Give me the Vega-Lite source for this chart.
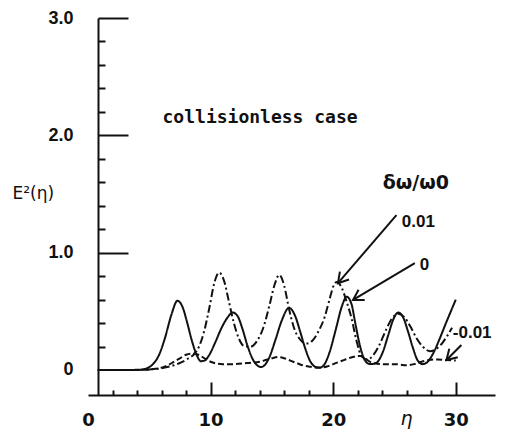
{
  "$schema": "https://vega.github.io/schema/vega-lite/v6.json",
  "width": 407,
  "height": 377,
  "autosize": {"type": "none"},
  "padding": {"left": 88, "top": 18, "right": 12, "bottom": 42},
  "background": "white",
  "config": {
    "view": {"stroke": null},
    "axis": {"grid": false, "domainColor": "#111", "tickColor": "#111", "labelColor": "#111", "titleColor": "#111"}
  },
  "datasets": {
    "curves": [
      {"eta": 0.8, "E2": 0, "ratio": "0"}, {"eta": 3, "E2": 0, "ratio": "0"}, {"eta": 4.3, "E2": 0.003, "ratio": "0"}, {"eta": 4.8, "E2": 0.015, "ratio": "0"}, {"eta": 5.3, "E2": 0.05, "ratio": "0"}, {"eta": 5.8, "E2": 0.13, "ratio": "0"}, {"eta": 6.3, "E2": 0.28, "ratio": "0"}, {"eta": 6.8, "E2": 0.47, "ratio": "0"}, {"eta": 7.3, "E2": 0.59, "ratio": "0"}, {"eta": 7.7, "E2": 0.54, "ratio": "0"}, {"eta": 8.1, "E2": 0.4, "ratio": "0"}, {"eta": 8.5, "E2": 0.24, "ratio": "0"}, {"eta": 8.9, "E2": 0.12, "ratio": "0"}, {"eta": 9.2, "E2": 0.075, "ratio": "0"}, {"eta": 9.5, "E2": 0.08, "ratio": "0"}, {"eta": 9.9, "E2": 0.13, "ratio": "0"}, {"eta": 10.4, "E2": 0.24, "ratio": "0"}, {"eta": 10.9, "E2": 0.36, "ratio": "0"}, {"eta": 11.4, "E2": 0.45, "ratio": "0"}, {"eta": 11.8, "E2": 0.49, "ratio": "0"}, {"eta": 12.2, "E2": 0.46, "ratio": "0"}, {"eta": 12.6, "E2": 0.35, "ratio": "0"}, {"eta": 13.0, "E2": 0.21, "ratio": "0"}, {"eta": 13.4, "E2": 0.1, "ratio": "0"}, {"eta": 13.8, "E2": 0.04, "ratio": "0"}, {"eta": 14.1, "E2": 0.025, "ratio": "0"}, {"eta": 14.4, "E2": 0.04, "ratio": "0"}, {"eta": 14.8, "E2": 0.11, "ratio": "0"}, {"eta": 15.3, "E2": 0.26, "ratio": "0"}, {"eta": 15.8, "E2": 0.42, "ratio": "0"}, {"eta": 16.4, "E2": 0.53, "ratio": "0"}, {"eta": 16.9, "E2": 0.46, "ratio": "0"}, {"eta": 17.3, "E2": 0.33, "ratio": "0"}, {"eta": 17.7, "E2": 0.19, "ratio": "0"}, {"eta": 18.1, "E2": 0.08, "ratio": "0"}, {"eta": 18.5, "E2": 0.03, "ratio": "0"}, {"eta": 18.9, "E2": 0.02, "ratio": "0"}, {"eta": 19.3, "E2": 0.05, "ratio": "0"}, {"eta": 19.7, "E2": 0.15, "ratio": "0"}, {"eta": 20.2, "E2": 0.34, "ratio": "0"}, {"eta": 20.7, "E2": 0.54, "ratio": "0"}, {"eta": 21.1, "E2": 0.625, "ratio": "0"}, {"eta": 21.5, "E2": 0.56, "ratio": "0"}, {"eta": 21.8, "E2": 0.4, "ratio": "0"}, {"eta": 22.2, "E2": 0.2, "ratio": "0"}, {"eta": 22.6, "E2": 0.08, "ratio": "0"}, {"eta": 23.0, "E2": 0.05, "ratio": "0"}, {"eta": 23.5, "E2": 0.06, "ratio": "0"}, {"eta": 24.0, "E2": 0.14, "ratio": "0"}, {"eta": 24.5, "E2": 0.3, "ratio": "0"}, {"eta": 24.9, "E2": 0.43, "ratio": "0"}, {"eta": 25.3, "E2": 0.49, "ratio": "0"}, {"eta": 25.7, "E2": 0.45, "ratio": "0"}, {"eta": 26.1, "E2": 0.33, "ratio": "0"}, {"eta": 26.5, "E2": 0.19, "ratio": "0"}, {"eta": 26.9, "E2": 0.08, "ratio": "0"}, {"eta": 27.3, "E2": 0.05, "ratio": "0"}, {"eta": 27.7, "E2": 0.07, "ratio": "0"}, {"eta": 28.2, "E2": 0.15, "ratio": "0"}, {"eta": 28.7, "E2": 0.27, "ratio": "0"}, {"eta": 29.2, "E2": 0.4, "ratio": "0"}, {"eta": 29.6, "E2": 0.5, "ratio": "0"}, {"eta": 30.0, "E2": 0.6, "ratio": "0"},

      {"eta": 0.8, "E2": 0, "ratio": "0.01"}, {"eta": 4, "E2": 0, "ratio": "0.01"}, {"eta": 5, "E2": 0.005, "ratio": "0.01"}, {"eta": 6, "E2": 0.015, "ratio": "0.01"}, {"eta": 7, "E2": 0.04, "ratio": "0.01"}, {"eta": 7.6, "E2": 0.065, "ratio": "0.01"}, {"eta": 8.2, "E2": 0.1, "ratio": "0.01"}, {"eta": 8.7, "E2": 0.14, "ratio": "0.01"}, {"eta": 9.1, "E2": 0.21, "ratio": "0.01"}, {"eta": 9.5, "E2": 0.34, "ratio": "0.01"}, {"eta": 9.9, "E2": 0.53, "ratio": "0.01"}, {"eta": 10.3, "E2": 0.74, "ratio": "0.01"}, {"eta": 10.7, "E2": 0.83, "ratio": "0.01"}, {"eta": 11.1, "E2": 0.76, "ratio": "0.01"}, {"eta": 11.5, "E2": 0.58, "ratio": "0.01"}, {"eta": 11.9, "E2": 0.4, "ratio": "0.01"}, {"eta": 12.3, "E2": 0.27, "ratio": "0.01"}, {"eta": 12.8, "E2": 0.2, "ratio": "0.01"}, {"eta": 13.3, "E2": 0.2, "ratio": "0.01"}, {"eta": 13.8, "E2": 0.25, "ratio": "0.01"}, {"eta": 14.3, "E2": 0.36, "ratio": "0.01"}, {"eta": 14.8, "E2": 0.55, "ratio": "0.01"}, {"eta": 15.2, "E2": 0.72, "ratio": "0.01"}, {"eta": 15.6, "E2": 0.81, "ratio": "0.01"}, {"eta": 16.0, "E2": 0.72, "ratio": "0.01"}, {"eta": 16.4, "E2": 0.52, "ratio": "0.01"}, {"eta": 16.8, "E2": 0.36, "ratio": "0.01"}, {"eta": 17.3, "E2": 0.26, "ratio": "0.01"}, {"eta": 17.8, "E2": 0.225, "ratio": "0.01"}, {"eta": 18.3, "E2": 0.25, "ratio": "0.01"}, {"eta": 18.8, "E2": 0.33, "ratio": "0.01"}, {"eta": 19.3, "E2": 0.45, "ratio": "0.01"}, {"eta": 19.7, "E2": 0.6, "ratio": "0.01"}, {"eta": 20.0, "E2": 0.71, "ratio": "0.01"}, {"eta": 20.3, "E2": 0.75, "ratio": "0.01"}, {"eta": 20.7, "E2": 0.7, "ratio": "0.01"}, {"eta": 21.1, "E2": 0.58, "ratio": "0.01"}, {"eta": 21.5, "E2": 0.44, "ratio": "0.01"}, {"eta": 21.9, "E2": 0.25, "ratio": "0.01"}, {"eta": 22.3, "E2": 0.12, "ratio": "0.01"}, {"eta": 22.8, "E2": 0.09, "ratio": "0.01"}, {"eta": 23.3, "E2": 0.13, "ratio": "0.01"}, {"eta": 23.8, "E2": 0.22, "ratio": "0.01"}, {"eta": 24.3, "E2": 0.34, "ratio": "0.01"}, {"eta": 24.8, "E2": 0.44, "ratio": "0.01"}, {"eta": 25.3, "E2": 0.48, "ratio": "0.01"}, {"eta": 25.8, "E2": 0.45, "ratio": "0.01"}, {"eta": 26.3, "E2": 0.37, "ratio": "0.01"}, {"eta": 26.8, "E2": 0.27, "ratio": "0.01"}, {"eta": 27.3, "E2": 0.2, "ratio": "0.01"}, {"eta": 27.9, "E2": 0.16, "ratio": "0.01"}, {"eta": 28.4, "E2": 0.18, "ratio": "0.01"}, {"eta": 28.9, "E2": 0.23, "ratio": "0.01"}, {"eta": 29.3, "E2": 0.29, "ratio": "0.01"}, {"eta": 29.7, "E2": 0.36, "ratio": "0.01"},

      {"eta": 0.8, "E2": 0, "ratio": "-0.01"}, {"eta": 4, "E2": 0, "ratio": "-0.01"}, {"eta": 5, "E2": 0.005, "ratio": "-0.01"}, {"eta": 5.5, "E2": 0.01, "ratio": "-0.01"}, {"eta": 6, "E2": 0.02, "ratio": "-0.01"}, {"eta": 6.5, "E2": 0.04, "ratio": "-0.01"}, {"eta": 7, "E2": 0.07, "ratio": "-0.01"}, {"eta": 7.5, "E2": 0.1, "ratio": "-0.01"}, {"eta": 8, "E2": 0.13, "ratio": "-0.01"}, {"eta": 8.5, "E2": 0.14, "ratio": "-0.01"}, {"eta": 9, "E2": 0.13, "ratio": "-0.01"}, {"eta": 9.5, "E2": 0.1, "ratio": "-0.01"}, {"eta": 10, "E2": 0.07, "ratio": "-0.01"}, {"eta": 10.5, "E2": 0.055, "ratio": "-0.01"}, {"eta": 11, "E2": 0.05, "ratio": "-0.01"}, {"eta": 12, "E2": 0.05, "ratio": "-0.01"}, {"eta": 13, "E2": 0.06, "ratio": "-0.01"}, {"eta": 14, "E2": 0.07, "ratio": "-0.01"}, {"eta": 14.5, "E2": 0.085, "ratio": "-0.01"}, {"eta": 15, "E2": 0.1, "ratio": "-0.01"}, {"eta": 15.5, "E2": 0.11, "ratio": "-0.01"}, {"eta": 16, "E2": 0.1, "ratio": "-0.01"}, {"eta": 16.5, "E2": 0.08, "ratio": "-0.01"}, {"eta": 17, "E2": 0.06, "ratio": "-0.01"}, {"eta": 17.5, "E2": 0.04, "ratio": "-0.01"}, {"eta": 18, "E2": 0.03, "ratio": "-0.01"}, {"eta": 18.7, "E2": 0.02, "ratio": "-0.01"}, {"eta": 19.5, "E2": 0.03, "ratio": "-0.01"}, {"eta": 20, "E2": 0.05, "ratio": "-0.01"}, {"eta": 20.5, "E2": 0.07, "ratio": "-0.01"}, {"eta": 21, "E2": 0.09, "ratio": "-0.01"}, {"eta": 21.6, "E2": 0.11, "ratio": "-0.01"}, {"eta": 22.2, "E2": 0.12, "ratio": "-0.01"}, {"eta": 22.7, "E2": 0.09, "ratio": "-0.01"}, {"eta": 23.2, "E2": 0.06, "ratio": "-0.01"}, {"eta": 24, "E2": 0.05, "ratio": "-0.01"}, {"eta": 25, "E2": 0.05, "ratio": "-0.01"}, {"eta": 26, "E2": 0.04, "ratio": "-0.01"}, {"eta": 26.6, "E2": 0.05, "ratio": "-0.01"}, {"eta": 27.2, "E2": 0.07, "ratio": "-0.01"}, {"eta": 27.8, "E2": 0.085, "ratio": "-0.01"}, {"eta": 28.5, "E2": 0.09, "ratio": "-0.01"}, {"eta": 29.2, "E2": 0.085, "ratio": "-0.01"}, {"eta": 30, "E2": 0.08, "ratio": "-0.01"}
    ],
    "heading": [
      {"text": "collisionless case", "x": 6.08, "y": 2.15}
    ],
    "notes": [
      {"text": "δω/ω0", "x": 24.04, "y": 1.59, "kind": "param"},
      {"text": "0.01", "x": 25.6, "y": 1.26, "kind": "value"},
      {"text": "0", "x": 27.06, "y": 0.895, "kind": "value"},
      {"text": "-0.01", "x": 29.76, "y": 0.315, "kind": "value"}
    ],
    "arrows": [
      {"id": "a", "x": 25.16, "y": 1.32, "x2": 20.39, "y2": 0.74},
      {"id": "b", "x": 26.66, "y": 0.91, "x2": 21.62, "y2": 0.597},
      {"id": "c", "x": 30.46, "y": 0.213, "x2": 29.24, "y2": 0.085}
    ]
  },
  "resolve": {
    "scale": {"x": "shared", "y": "shared"},
    "axis": {"x": "independent", "y": "independent"}
  },
  "layer": [
    {
      "data": {"name": "curves"},
      "mark": {"type": "line", "interpolate": "monotone", "strokeWidth": 2, "color": "#111"},
      "encoding": {
        "x": {
          "field": "eta", "type": "quantitative",
          "scale": {"domain": [0, 33.2], "nice": false, "zero": false},
          "axis": {
            "orient": "bottom", "values": [0, 10, 20, 30], "ticks": false, "tickSize": 0,
            "labelPadding": 16, "labelFont": "DejaVu Sans", "labelFontSize": 18, "labelFontWeight": "bold",
            "labelFlush": false, "labelOverlap": false, "format": "d",
            "domainWidth": 2,
            "title": "η", "titleFont": "DejaVu Sans", "titleFontSize": 19, "titleFontStyle": "italic",
            "titleFontWeight": "normal", "titleX": 318, "titleY": 29, "titleAlign": "center", "titleBaseline": "alphabetic"
          }
        },
        "y": {
          "field": "E2", "type": "quantitative",
          "scale": {"domain": [-0.2131, 3.0], "nice": false, "zero": false},
          "axis": {
            "orient": "left", "offset": -10, "values": [0, 1, 2, 3], "ticks": false, "tickSize": 0,
            "labelPadding": 25, "labelExpr": "datum.value == 0 ? '0' : format(datum.value, '.1f')",
            "labelFont": "Liberation Sans", "labelFontSize": 18, "labelFontWeight": "bold", "labelFlush": false, "labelOverlap": false,
            "domainWidth": 2,
            "title": "E²(η)", "titleAngle": 0, "titleX": -86, "titleY": 175, "titleAlign": "left",
            "titleBaseline": "middle", "titleFont": "DejaVu Sans", "titleFontSize": 17, "titleFontWeight": "normal"
          }
        },
        "strokeDash": {
          "field": "ratio", "type": "nominal",
          "scale": {"domain": ["0.01", "0", "-0.01"], "range": [[8, 3, 2, 3], [1, 0], [6, 3]]},
          "legend": null
        }
      }
    },
    {
      "data": {"name": "heading"},
      "mark": {"type": "text", "font": "DejaVu Sans Mono", "fontSize": 18, "fontWeight": "bold", "align": "left", "baseline": "middle", "color": "#111"},
      "encoding": {
        "x": {
          "field": "x", "type": "quantitative",
          "scale": {"domain": [0, 33.2], "nice": false, "zero": false},
          "axis": {"orient": "bottom", "values": [10, 20, 30], "tickSize": -13, "tickWidth": 2, "labels": false, "domain": false, "title": null}
        },
        "y": {
          "field": "y", "type": "quantitative",
          "scale": {"domain": [-0.2131, 3.0], "nice": false, "zero": false},
          "axis": {"orient": "left", "offset": -10, "values": [1, 2, 3], "tickSize": -30, "tickWidth": 2, "labels": false, "domain": false, "title": null}
        },
        "text": {"field": "text"}
      }
    },
    {
      "data": {"name": "notes"},
      "transform": [{"filter": "datum.kind == 'param'"}],
      "mark": {"type": "text", "font": "DejaVu Sans", "fontSize": 19, "fontWeight": "bold", "align": "left", "baseline": "middle", "color": "#111"},
      "encoding": {
        "x": {"field": "x", "type": "quantitative", "axis": null},
        "y": {"field": "y", "type": "quantitative", "axis": null},
        "text": {"field": "text"}
      }
    },
    {
      "data": {"name": "notes"},
      "transform": [{"filter": "datum.kind == 'value'"}],
      "mark": {"type": "text", "font": "Liberation Sans", "fontSize": 17, "fontWeight": "bold", "align": "left", "baseline": "middle", "color": "#111"},
      "encoding": {
        "x": {"field": "x", "type": "quantitative", "axis": null},
        "y": {"field": "y", "type": "quantitative", "axis": null},
        "text": {"field": "text"}
      }
    },
    {
      "data": {"name": "arrows"},
      "mark": {"type": "rule", "strokeWidth": 2, "color": "#111"},
      "encoding": {
        "x": {
          "field": "x", "type": "quantitative",
          "axis": {"orient": "bottom", "values": [2, 4, 6, 8, 12, 14, 16, 18, 22, 24, 26, 28], "tickSize": -5, "tickWidth": 2, "labels": false, "domain": false, "title": null}
        },
        "y": {
          "field": "y", "type": "quantitative",
          "axis": {"orient": "left", "offset": -10, "values": [0.2, 0.4, 0.6, 0.8, 1.2, 1.4, 1.6, 1.8, 2.2, 2.4, 2.6, 2.8], "tickSize": -7, "tickWidth": 2, "labels": false, "domain": false, "title": null}
        },
        "x2": {"field": "x2"},
        "y2": {"field": "y2"}
      }
    },
    {
      "data": {"name": "arrows"},
      "transform": [{"filter": "datum.id == 'a'"}],
      "mark": {"type": "point", "shape": "M-1,-0.6L0,0L-1,0.6", "filled": false, "stroke": "#111", "strokeWidth": 2, "size": 400, "angle": 130.5, "opacity": 1},
      "encoding": {
        "x": {"field": "x2", "type": "quantitative", "axis": null},
        "y": {"field": "y2", "type": "quantitative", "axis": null}
      }
    },
    {
      "data": {"name": "arrows"},
      "transform": [{"filter": "datum.id == 'b'"}],
      "mark": {"type": "point", "shape": "M-1,-0.6L0,0L-1,0.6", "filled": false, "stroke": "#111", "strokeWidth": 2, "size": 400, "angle": 149.3, "opacity": 1},
      "encoding": {
        "x": {"field": "x2", "type": "quantitative", "axis": null},
        "y": {"field": "y2", "type": "quantitative", "axis": null}
      }
    },
    {
      "data": {"name": "arrows"},
      "transform": [{"filter": "datum.id == 'c'"}],
      "mark": {"type": "point", "shape": "M-1,-0.6L0,0L-1,0.6", "filled": false, "stroke": "#111", "strokeWidth": 2, "size": 400, "angle": 135, "opacity": 1},
      "encoding": {
        "x": {"field": "x2", "type": "quantitative", "axis": null},
        "y": {"field": "y2", "type": "quantitative", "axis": null}
      }
    }
  ]
}
